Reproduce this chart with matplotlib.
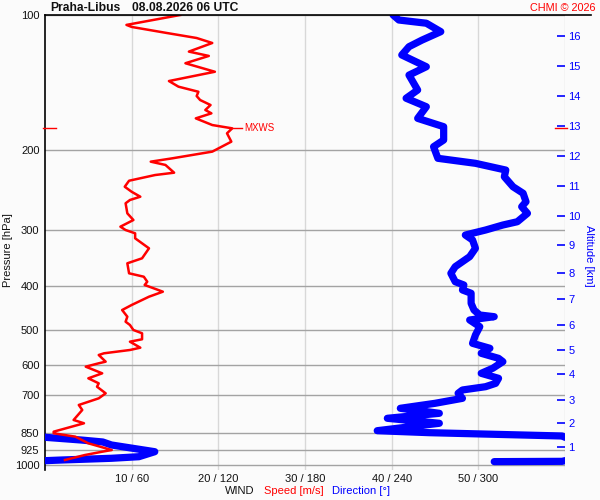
import numpy as np
import matplotlib
matplotlib.use("Agg")
import matplotlib.pyplot as plt
from matplotlib.ticker import NullLocator

plt.rcParams['font.family'] = ['Liberation Sans', 'DejaVu Sans']

# ---------------- data ----------------
station = "Praha-Libus"
stamp = "08.08.2026 06 UTC"

speed_p = [100.0, 105.2, 106.3, 109.6, 112.5, 115.4, 120.6, 123.3, 128.0, 133.7,
           140.2, 144.3, 148.1, 151.4, 154.5, 158.5, 162.6, 165.4, 169.7, 175.6,
           178.6, 183.2, 191.2, 201.2, 208.2, 211.8, 215.4, 224.1, 226.8, 233.5,
           240.8, 247.1, 253.4, 257.7, 262.1, 275.9, 285.5, 295.4, 300.5, 305.6,
           313.5, 330.0, 347.3, 356.3, 375.0, 381.6, 391.5, 398.1, 412.0, 422.7,
           441.0, 452.5, 468.2, 480.4, 488.5, 501.2, 509.7, 525.6, 532.1, 548.7,
           555.2, 564.7, 569.6, 589.4, 594.3, 604.7, 625.6, 641.8, 658.5, 669.9,
           693.0, 711.0, 735.6, 754.7, 794.3, 807.8, 843.3, 850.3, 865.1, 895.0,
           926.3, 934.3, 950.3, 974.7]
speed = [15.6, 9.4, 10.0, 14.0, 17.5, 19.3, 16.6, 18.9, 16.2, 19.6,
         14.3, 15.4, 17.7, 17.5, 17.9, 19.1, 18.5, 19.2, 17.4, 19.3,
         21.6, 21.0, 21.5, 19.3, 14.7, 12.2, 13.9, 14.9, 12.7, 9.7,
         9.2, 10.0, 11.0, 9.8, 9.3, 9.5, 10.2, 8.7, 9.3, 10.4,
         10.4, 12.0, 11.2, 9.5, 9.7, 11.4, 11.8, 11.5, 13.6, 12.0,
         10.0, 8.9, 9.5, 9.3, 9.8, 10.2, 11.2, 11.2, 9.8, 11.0,
         9.8, 6.8, 6.2, 7.0, 6.2, 4.7, 6.6, 5.0, 6.2, 6.0,
         7.0, 6.2, 3.9, 4.3, 3.3, 4.5, 1.0, 1.0, 3.5, 5.0,
         7.7, 6.6, 4.6, 2.3]

dir_p = [100.0, 102.6, 104.3, 108.9, 113.7, 117.6, 122.7, 130.3, 136.0, 146.8,
         153.1, 159.9, 169.7, 177.1, 189.6, 196.2, 208.2, 213.6, 221.1, 228.8,
         240.8, 249.0, 260.0, 266.7, 275.9, 288.0, 292.9, 300.5, 308.3, 316.2,
         330.0, 344.4, 362.5, 375.0, 391.5, 398.1, 408.4, 415.3, 437.2, 452.5,
         464.2, 468.2, 476.2, 492.8, 514.2, 536.6, 550.4, 564.7, 579.4, 589.4,
         609.6, 625.6, 641.8, 658.5, 669.9, 681.3, 693.0, 711.0, 729.4, 748.2,
         767.6, 787.5, 807.8, 839.1, 847.6, 862.1, 867.9, 880.0, 889.0, 902.7,
         934.3, 958.5, 966.3, 974.7, 978.2, 981.5, 983.0]
direction = [241, 245, 264, 274, 261, 252, 247, 264, 252, 258,
             250, 264, 258, 276, 276, 269, 272, 298, 319, 318,
             324, 331, 333, 330, 334, 327, 317, 305, 291, 296,
             298, 294, 284, 281, 284, 290, 289, 295, 295, 297,
             301, 311, 294, 301, 298, 296, 308, 302, 314, 317,
             310, 302, 314, 312, 305, 289, 286, 289, 270, 246,
             273, 237, 273, 230, 266, 358, 0, 25, 40, 46,
             76, 65, 46, 12, 0, 358, 311]

pressure_ticks = [100, 200, 300, 400, 500, 600, 700, 850, 925, 1000]
speed_ticks = [10, 20, 30, 40, 50]
dir_ticks = [60, 120, 180, 240, 300]
alt_km = [1, 2, 3, 4, 5, 6, 7, 8, 9, 10, 11, 12, 13, 14, 15, 16]
alt_p = [910.8, 806.8, 717.0, 627.9, 554.3, 488.4, 427.0, 373.8, 324.4,
         279.7, 239.9, 205.8, 176.5, 151.4, 129.8, 111.3]

SPEED_MAX = 60.0
DIR_MAX = 360.0

# ---------------- figure ----------------
BG = '#fbfbfb'
RED = '#ff0000'
BLUE = '#0000ff'
W, H = 600, 500

fig = plt.figure(figsize=(6, 5), dpi=100, facecolor=BG)
ax = fig.add_axes([45 / W, 1 - 470 / H, 520 / W, 455 / H])
ax.set_facecolor(BG)
ax.set_yscale('log')
ax.set_ylim(1026, 100)
ax.set_xlim(0, SPEED_MAX)

ax.set_yticks(pressure_ticks)
ax.set_yticklabels([str(p) for p in pressure_ticks])
ax.yaxis.set_minor_locator(NullLocator())
ax.set_xticks(speed_ticks + [60])
ax.set_xticklabels([f"{s} / {d}" for s, d in zip(speed_ticks, dir_ticks)] + [""])
ax.tick_params(axis='both', length=0, labelsize=8, colors='#111111')
ax.tick_params(axis='y', pad=4)
ax.tick_params(axis='x', pad=3)
ax.yaxis.grid(True, color='#a3a3a3', lw=1.0, zorder=0)
ax.xaxis.grid(True, color='#d8d8d8', lw=1.0, zorder=0)
ax.set_axisbelow(True)
for s in ['top', 'right', 'bottom']:
    ax.spines[s].set_visible(False)
ax.spines['left'].set_color('black')
ax.spines['left'].set_linewidth(1.2)

# top black line at 100 hPa
ax.plot([0, 1.05], [1, 1], transform=ax.transAxes, color='black', lw=1.2,
        clip_on=False, zorder=5)

# direction (wrapped at 0/360), mapped onto the shared 0-60 / 0-360 axis
u = np.degrees(np.unwrap(np.radians(np.array(direction, dtype=float))))
scale = SPEED_MAX / DIR_MAX
for k in (-1, 0, 1):
    ax.plot((u + DIR_MAX * k) * scale, dir_p, color=BLUE, lw=5.2,
            solid_capstyle='round', solid_joinstyle='round', zorder=3)

# speed
ax.plot(speed, speed_p, color=RED, lw=1.8, solid_joinstyle='round', zorder=4)

# max wind marker
i = int(np.argmax(speed))
pmax = speed_p[i]
ax.plot([speed[i], 22.7], [pmax, pmax], color=RED, lw=1.0, zorder=4)
ax.text(23.0, pmax, "MXWS", color=RED, fontsize=7, va='center', ha='left')
ax.plot([-0.25, 1.25], [pmax, pmax], color=RED, lw=1.0, clip_on=False, zorder=6)
ax.plot([58.85, 60.25], [pmax, pmax], color=RED, lw=1.0, clip_on=False, zorder=6)

# altitude axis
ax2 = ax.twinx()
ax2.set_yscale('log')
ax2.set_ylim(1026, 100)
ax2.set_yticks(alt_p)
ax2.set_yticklabels([str(a) for a in alt_km])
ax2.yaxis.set_minor_locator(NullLocator())
ax2.tick_params(axis='y', direction='in', length=6, width=1.2, color=BLUE,
                labelcolor=BLUE, labelsize=8, pad=2.5)
for s in ax2.spines.values():
    s.set_visible(False)

# texts
fig.text(50 / W, 1 - 8 / H, station, fontsize=8.7, fontweight='bold',
         ha='left', va='center', color='#111111')
fig.text(131.5 / W, 1 - 8 / H, stamp, fontsize=8.7, fontweight='bold',
         ha='left', va='center', color='#111111')
fig.text(595 / W, 1 - 8 / H, "CHMI © 2026", fontsize=7.8, color=RED,
         ha='right', va='center')
fig.text(8 / W, 1 - 250 / H, "Pressure [hPa]", rotation=90, fontsize=8,
         ha='center', va='center', color='#111111')
fig.text(589 / W, 1 - 256 / H, "Altitude [km]", rotation=270, fontsize=8,
         ha='center', va='center', color=BLUE)
fig.text(225 / W, 1 - 491 / H, "WIND", fontsize=8, ha='left', va='center',
         color='#111111')
fig.text(264 / W, 1 - 491 / H, "Speed [m/s]", fontsize=8, ha='left',
         va='center', color=RED)
fig.text(332 / W, 1 - 491 / H, "Direction [°]", fontsize=8, ha='left',
         va='center', color=BLUE)

fig.savefig("out.png", dpi=100, facecolor=BG)
